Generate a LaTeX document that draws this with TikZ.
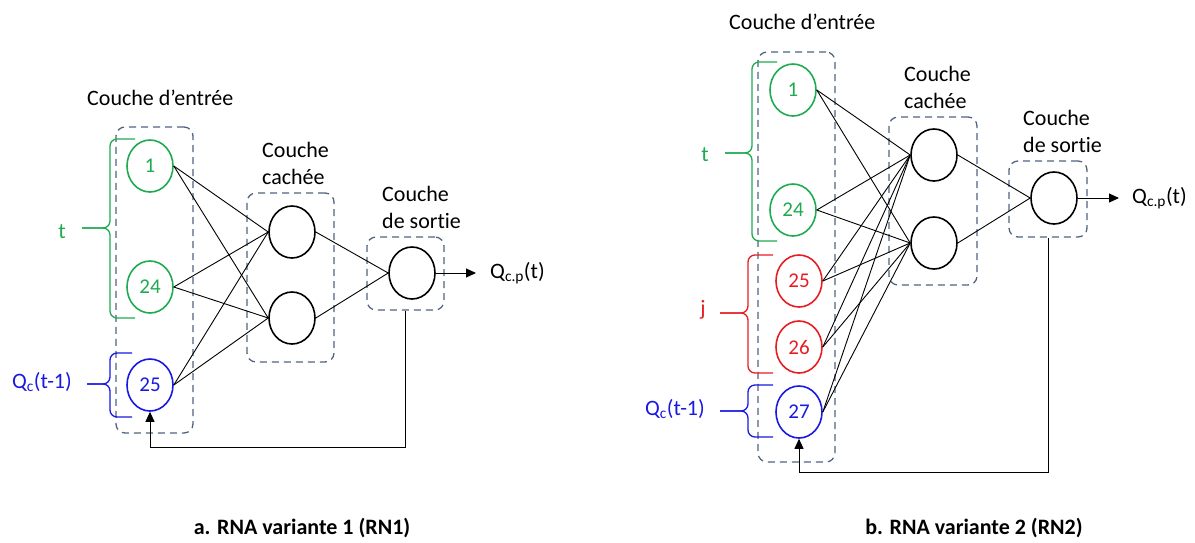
\documentclass[tikz,border=0pt]{standalone}
\usepackage{fontspec}
\setmainfont{Carlito}[Ligatures=NoCommon]
\usetikzlibrary{shapes.geometric,arrows.meta}
\definecolor{cg}{RGB}{30,170,80}
\definecolor{cr}{RGB}{230,30,35}
\definecolor{cb}{RGB}{25,25,225}
\definecolor{boxc}{RGB}{80,100,130}
\tikzset{
  neuron/.style={ellipse,draw,line width=1.6pt,minimum width=46pt,minimum height=52pt,inner sep=0pt,font=\fontsize{21}{24}\selectfont},
  ing/.style={neuron,draw=cg,text=cg},
  inr/.style={neuron,draw=cr,text=cr},
  inb/.style={neuron,draw=cb,text=cb},
  hid/.style={neuron,draw=black},
  layer/.style={draw=boxc,rounded corners=9pt,line width=1.3pt,dash pattern=on 7pt off 5pt,inner sep=0pt},
  conn/.style={line width=0.9pt,black},
  arr/.style={line width=1pt,black,-{Triangle[length=10pt,width=9pt]}},
  brace/.style={line width=1.3pt,rounded corners=7pt},
  lab/.style={font=\fontsize{22}{27}\selectfont,align=left,inner sep=0pt},
  captext/.style={font=\fontsize{22}{27}\selectfont\bfseries,inner sep=0pt}
}
\begin{document}
\begin{tikzpicture}[x=1pt,y=-1pt]
\useasboundingbox (0,0) rectangle (1195,542);
% ---------------- left diagram ----------------
\node[layer,minimum width=77pt,minimum height=306pt] (aib) at (154.5,280) {};
\node[layer,minimum width=87pt,minimum height=169pt] (ahb) at (290.5,277.5) {};
\node[layer,minimum width=77pt,minimum height=73pt] (aob) at (405.5,273.5) {};
\node[ing] (a1) at (150,166) {1};
\node[ing] (a24) at (150,287) {24};
\node[inb] (a25) at (150,385) {25};
\node[hid] (ah1) at (292,232) {};
\node[hid] (ah2) at (292,318) {};
\node[hid] (ao) at (412,273) {};
\foreach \i in {a1,a24,a25}{
  \draw[conn] (\i.east) -- (ah1.west);
  \draw[conn] (\i.east) -- (ah2.west);
}
\draw[conn] (ah1.east) -- (ao.west);
\draw[conn] (ah2.east) -- (ao.west);
\coordinate (aend) at (476,273);
\draw[arr] (ao.east) -- (aend);
\node[lab,anchor=west] (aq) at (490,273) {Q\textsubscript{c.p}(t)};
\draw[arr] (aob.south) -- ++(0,137) -| (a25.south);
% braces
\draw[brace,cg] (135,139) -- (110,139) -- (110,228) -- (82,228);
\draw[brace,cg] (82,228) -- (110,228) -- (110,318) -- (135,318);
\draw[brace,cb] (132,353) -- (110,353) -- (110,384) -- (87,384);
\draw[brace,cb] (87,384) -- (110,384) -- (110,417) -- (132,417);
\node[lab,text=cg] (at) at (62,232) {t};
\node[lab,text=cb,anchor=east] (aqc) at (72,382) {Q\textsubscript{c}(t-1)};
\node[lab,anchor=west] (ain) at (87,98) {Couche d’entrée};
\node[lab,anchor=west] (ahl) at (262,163) {Couche\\cachée};
\node[lab,anchor=west] (aol) at (382,207) {Couche\\de sortie};
\node[captext] (capa) at (302,528) {a. RNA variante 1 (RN1)};
% ---------------- right diagram ----------------
\node[layer,minimum width=77pt,minimum height=410pt] (bib) at (796.5,257) {};
\node[layer,minimum width=88pt,minimum height=168pt] (bhb) at (933,201) {};
\node[layer,minimum width=78pt,minimum height=76pt] (bob) at (1048,199) {};
\node[ing] (b1) at (793,90) {1};
\node[ing] (b24) at (793,210) {24};
\node[inr] (b25) at (799,281) {25};
\node[inr] (b26) at (799,347) {26};
\node[inb] (b27) at (799,412) {27};
\node[hid] (bh1) at (934,155) {};
\node[hid] (bh2) at (934,243) {};
\node[hid] (bo) at (1054,198) {};
\foreach \i in {b1,b24,b25,b26,b27}{
  \draw[conn] (\i.east) -- (bh1.west);
  \draw[conn] (\i.east) -- (bh2.west);
}
\draw[conn] (bh1.east) -- (bo.west);
\draw[conn] (bh2.east) -- (bo.west);
\coordinate (bend) at (1119,198);
\draw[arr] (bo.east) -- (bend);
\node[lab,anchor=west] (bq) at (1132,198) {Q\textsubscript{c.p}(t)};
\draw[arr] (bob.south) -- ++(0,235) -| (b27.south);
% braces
\draw[brace,cg] (777,62) -- (752,62) -- (752,153) -- (725,153);
\draw[brace,cg] (725,153) -- (752,153) -- (752,241) -- (777,241);
\draw[brace,cr] (773,255) -- (748,255) -- (748,313) -- (720,313);
\draw[brace,cr] (720,313) -- (748,313) -- (748,373) -- (773,373);
\draw[brace,cb] (773,385) -- (748,385) -- (748,411) -- (720,411);
\draw[brace,cb] (720,411) -- (748,411) -- (748,437) -- (773,437);
\node[lab,text=cg] (bt) at (705,155) {t};
\node[lab,text=cr] (bj) at (703,310) {j};
\node[lab,text=cb,anchor=east] (bqc) at (705,409) {Q\textsubscript{c}(t-1)};
\node[lab,anchor=west] (bin) at (729,22) {Couche d’entrée};
\node[lab,anchor=west] (bhl) at (904,87) {Couche\\cachée};
\node[lab,anchor=west] (bol) at (1023,131) {Couche\\de sortie};
\node[captext] (capb) at (974,528) {b. RNA variante 2 (RN2)};
\end{tikzpicture}
\end{document}
